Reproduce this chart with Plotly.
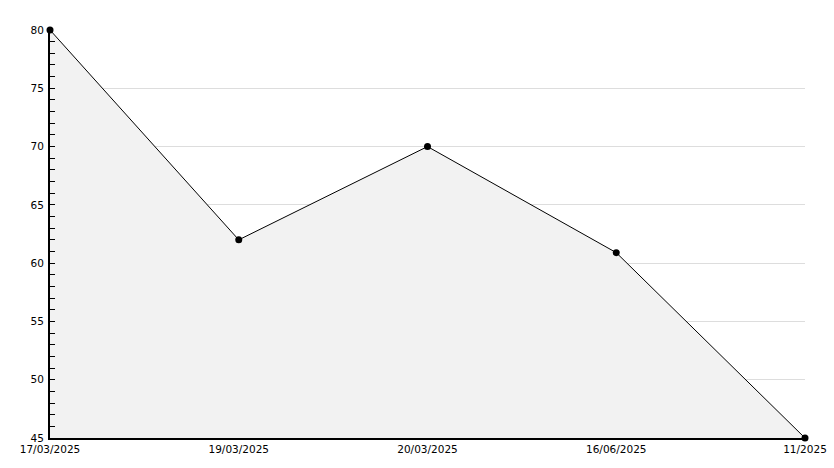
import plotly.graph_objects as go

categories = ["17/03/2025", "19/03/2025", "20/03/2025", "16/06/2025", "11/2025"]
values = [80, 62, 70, 60.9, 45]
y_ticks = [45, 50, 55, 60, 65, 70, 75, 80]

x_pos = list(range(len(categories)))

fig = go.Figure()
fig.add_trace(go.Scatter(
    x=x_pos, y=values, mode="lines+markers",
    line=dict(color="black", width=1),
    marker=dict(color="black", size=7, symbol="circle"),
    fill="tozeroy", fillcolor="#f2f2f2",
    cliponaxis=False, showlegend=False,
))

fig.update_layout(
    width=834, height=468,
    margin=dict(l=50, r=29, t=30, b=30),
    paper_bgcolor="white", plot_bgcolor="white",
    font=dict(family="DejaVu Sans", size=10.5, color="black"),
    xaxis=dict(
        range=[0, len(categories) - 1],
        tickvals=x_pos, ticktext=categories,
        showgrid=False, zeroline=False, automargin=False,
        showline=True, linecolor="black", linewidth=2,
        ticks="", ticklabelstandoff=0,
    ),
    yaxis=dict(
        range=[45, 80],
        tickvals=y_ticks, automargin=False,
        showgrid=True, gridcolor="#dddddd", gridwidth=1,
        zeroline=False,
        showline=True, linecolor="black", linewidth=2,
        ticks="inside", ticklen=5, tickcolor="black", tickwidth=1,
        ticklabelstandoff=2,
        minor=dict(dtick=1, ticks="inside", ticklen=5, tickcolor="black", showgrid=False),
    ),
)

fig.write_html("out.html", config={"displayModeBar": False},
               post_script="document.body.style.margin='0';")
